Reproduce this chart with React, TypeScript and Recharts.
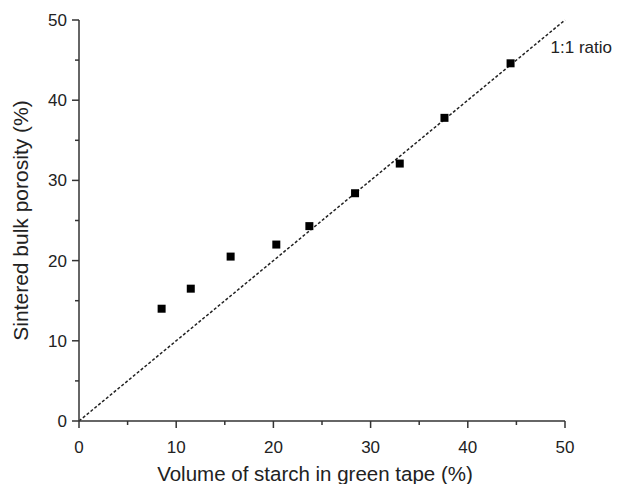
import { ScatterChart, Scatter, XAxis, YAxis, ReferenceLine } from 'recharts'

const starchVolume = [8.5, 11.5, 15.6, 20.3, 23.7, 28.4, 33.0, 37.6, 44.4]
const bulkPorosity = [14.0, 16.5, 20.5, 22.0, 24.3, 28.4, 32.1, 37.8, 44.6]
const axisTicks = [0, 5, 10, 15, 20, 25, 30, 35, 40, 45, 50]

const data = starchVolume.map((x, i) => ({ x, y: bulkPorosity[i] }))

const FONT = '"Liberation Sans", Arial, sans-serif'
const AXIS_COLOR = '#333'
const MAJOR = 7
const MINOR = 4
const X_MARGIN = 12
const Y_MARGIN = 5

const XTick = (props: any) => {
  const { x, y, payload } = props
  const axisY = y - MAJOR - X_MARGIN
  const major = payload.value % 10 === 0
  return (
    <g>
      <line x1={x} x2={x} y1={axisY} y2={axisY + (major ? MAJOR : MINOR)} stroke={AXIS_COLOR} strokeWidth={1.5} />
      {major && (
        <text x={x} y={y} dy="0.75em" textAnchor="middle" fontSize={17} fill="#222" fontFamily={FONT}>
          {payload.value}
        </text>
      )}
    </g>
  )
}

const YTick = (props: any) => {
  const { x, y, payload } = props
  const axisX = x + MAJOR + Y_MARGIN
  const major = payload.value % 10 === 0
  return (
    <g>
      <line x1={axisX} x2={axisX - (major ? MAJOR : MINOR)} y1={y} y2={y} stroke={AXIS_COLOR} strokeWidth={1.5} />
      {major && (
        <text x={x} y={y} dy="0.35em" textAnchor="end" fontSize={17} fill="#222" fontFamily={FONT}>
          {payload.value}
        </text>
      )}
    </g>
  )
}

const App = () => {
  return (
    <ScatterChart width={620} height={476} margin={{ top: 12, right: 63, bottom: 13, left: 11 }}>
      <XAxis
        type="number"
        dataKey="x"
        domain={[0, 50]}
        ticks={axisTicks}
        interval={0}
        tickLine={false}
        tickSize={MAJOR}
        tickMargin={X_MARGIN}
        tick={<XTick />}
        axisLine={{ stroke: AXIS_COLOR, strokeWidth: 1.5 }}
        height={50}
        label={{ value: 'Volume of starch in green tape (%)', position: 'insideBottom', offset: -10, dx: -7, fontSize: 20.5, fill: '#222', fontFamily: FONT }}
      />
      <YAxis
        type="number"
        dataKey="y"
        domain={[0, 50]}
        ticks={axisTicks}
        interval={0}
        tickLine={false}
        tickSize={MAJOR}
        tickMargin={Y_MARGIN}
        tick={<YTick />}
        axisLine={{ stroke: AXIS_COLOR, strokeWidth: 1.5 }}
        width={60}
        label={{ value: 'Sintered bulk porosity (%)', angle: -90, position: 'insideLeft', offset: 2, fontSize: 21, fill: '#222', fontFamily: FONT, style: { textAnchor: 'middle' } }}
      />
      <ReferenceLine
        segment={[{ x: 0, y: 0 }, { x: 50, y: 50 }]}
        stroke="#222"
        strokeWidth={1.5}
        strokeDasharray="3 2"
        label={{ value: '1:1 ratio', position: 'insideTopRight', dx: 52, dy: 16, fontSize: 17, fill: '#222', fontFamily: FONT }}
      />
      <Scatter data={data} shape="square" fill="#000" legendType="none" isAnimationActive={false} />
    </ScatterChart>
  )
}

export default App
